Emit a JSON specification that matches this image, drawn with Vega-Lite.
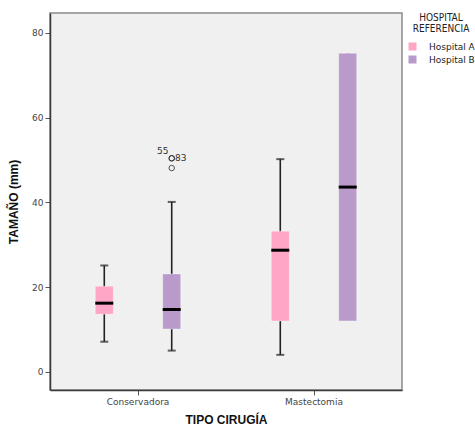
{
  "$schema": "https://vega.github.io/schema/vega-lite/v6.json",
  "autosize": "none",
  "padding": {"left": 50, "top": 13, "right": 73, "bottom": 38},
  "width": 352,
  "height": 377,
  "background": "white",
  "datasets": {
    "boxes": [
      {"cirugia": "Conservadora", "hospital": "Hospital A", "lower": 7.1, "q1": 13.6, "median": 16.2, "q3": 20.2, "upper": 25.1},
      {"cirugia": "Conservadora", "hospital": "Hospital B", "lower": 5.0, "q1": 10.1, "median": 14.7, "q3": 23.1, "upper": 40.1},
      {"cirugia": "Mastectomia", "hospital": "Hospital A", "lower": 4.0, "q1": 12.0, "median": 28.7, "q3": 33.2, "upper": 50.2},
      {"cirugia": "Mastectomia", "hospital": "Hospital B", "lower": 12.0, "q1": 12.0, "median": 43.6, "q3": 75.2, "upper": 75.2}
    ],
    "outliers": [
      {"cirugia": "Conservadora", "hospital": "Hospital B", "value": 50.4, "id": "55"},
      {"cirugia": "Conservadora", "hospital": "Hospital B", "value": 50.4, "id": "83"},
      {"cirugia": "Conservadora", "hospital": "Hospital B", "value": 48.1, "id": ""}
    ]
  },
  "encoding": {
    "x": {
      "field": "cirugia", "type": "nominal",
      "scale": {"paddingInner": 0, "paddingOuter": 0},
      "axis": {"title": "TIPO CIRUGÍA", "labelAngle": 0}
    },
    "xOffset": {
      "field": "hospital", "type": "nominal",
      "scale": {"paddingInner": 0, "paddingOuter": 0.305}
    }
  },
  "layer": [
    {
      "data": {"name": "boxes"},
      "mark": {"type": "rule", "color": "#222222", "strokeWidth": 1.6},
      "encoding": {
        "y": {"field": "lower", "type": "quantitative",
          "scale": {"domain": [-4.3, 84.7], "nice": false, "zero": false},
          "axis": {"title": "TAMAÑO (mm)", "values": [0, 20, 40, 60, 80]}},
        "y2": {"field": "upper"}
      }
    },
    {
      "data": {"name": "boxes"},
      "transform": [{"filter": "datum.lower < datum.q1"}],
      "mark": {"type": "tick", "orient": "horizontal", "size": 8, "thickness": 2, "color": "#222222"},
      "encoding": {"y": {"field": "lower", "type": "quantitative"}}
    },
    {
      "data": {"name": "boxes"},
      "transform": [{"filter": "datum.upper > datum.q3"}],
      "mark": {"type": "tick", "orient": "horizontal", "size": 8, "thickness": 2, "color": "#222222"},
      "encoding": {"y": {"field": "upper", "type": "quantitative"}}
    },
    {
      "data": {"name": "boxes"},
      "mark": {"type": "bar", "size": 18, "strokeWidth": 1, "strokeOpacity": 0.35, "stroke": "white"},
      "encoding": {
        "y": {"field": "q1", "type": "quantitative"},
        "y2": {"field": "q3"},
        "color": {
          "field": "hospital", "type": "nominal",
          "scale": {"domain": ["Hospital A", "Hospital B"], "range": ["#FFA5C5", "#B99ACB"]},
          "legend": {"title": ["HOSPITAL", "REFERENCIA"]}
        }
      }
    },
    {
      "data": {"name": "boxes"},
      "mark": {"type": "tick", "orient": "horizontal", "size": 18, "thickness": 3, "color": "#000000", "opacity": 1},
      "encoding": {"y": {"field": "median", "type": "quantitative"}}
    },
    {
      "data": {"name": "outliers"},
      "mark": {"type": "point", "shape": "circle", "filled": false, "size": 30, "stroke": "#111111", "strokeWidth": 1},
      "encoding": {"y": {"field": "value", "type": "quantitative"}}
    },
    {
      "data": {"name": "outliers"},
      "transform": [{"filter": "datum.id == '55'"}],
      "mark": {"type": "text", "dx": -9, "dy": -7, "font": "DejaVu Sans", "fontSize": 9, "color": "#333333"},
      "encoding": {"y": {"field": "value", "type": "quantitative"}, "text": {"field": "id"}}
    },
    {
      "data": {"name": "outliers"},
      "transform": [{"filter": "datum.id == '83'"}],
      "mark": {"type": "text", "dx": 9, "dy": 0, "font": "DejaVu Sans", "fontSize": 9, "color": "#333333"},
      "encoding": {"y": {"field": "value", "type": "quantitative"}, "text": {"field": "id"}}
    }
  ],
  "config": {
    "view": {"fill": "#F0F0F0", "stroke": "#8a8a8a", "strokeWidth": 1.5},
    "axis": {
      "grid": false,
      "domainColor": "#3a3a3a",
      "domainWidth": 1.5,
      "tickColor": "#555555",
      "tickSize": 5,
      "tickWidth": 1,
      "labelFont": "DejaVu Sans",
      "labelFontSize": 9,
      "labelColor": "#444444",
      "labelPadding": 2,
      "titleFont": "Liberation Sans",
      "titleFontSize": 12,
      "titleFontWeight": "bold",
      "titleColor": "#111111"
    },
    "axisY": {"titlePadding": 11},
    "axisX": {"titlePadding": 8},
    "legend": {
      "orient": "right",
      "offset": 6,
      "symbolType": "square",
      "symbolSize": 64,
      "symbolStrokeWidth": 0,
      "labelFont": "DejaVu Sans",
      "labelFontSize": 9,
      "labelColor": "#222222",
      "labelOffset": 12,
      "rowPadding": 3,
      "titleFont": "DejaVu Sans Condensed, Liberation Sans",
      "titleFontSize": 10,
      "titleFontWeight": "normal",
      "titleColor": "#222222",
      "titleAnchor": "middle",
      "titleAlign": "center",
      "titleLineHeight": 11,
      "titlePadding": 8,
      "padding": 0
    }
  }
}
